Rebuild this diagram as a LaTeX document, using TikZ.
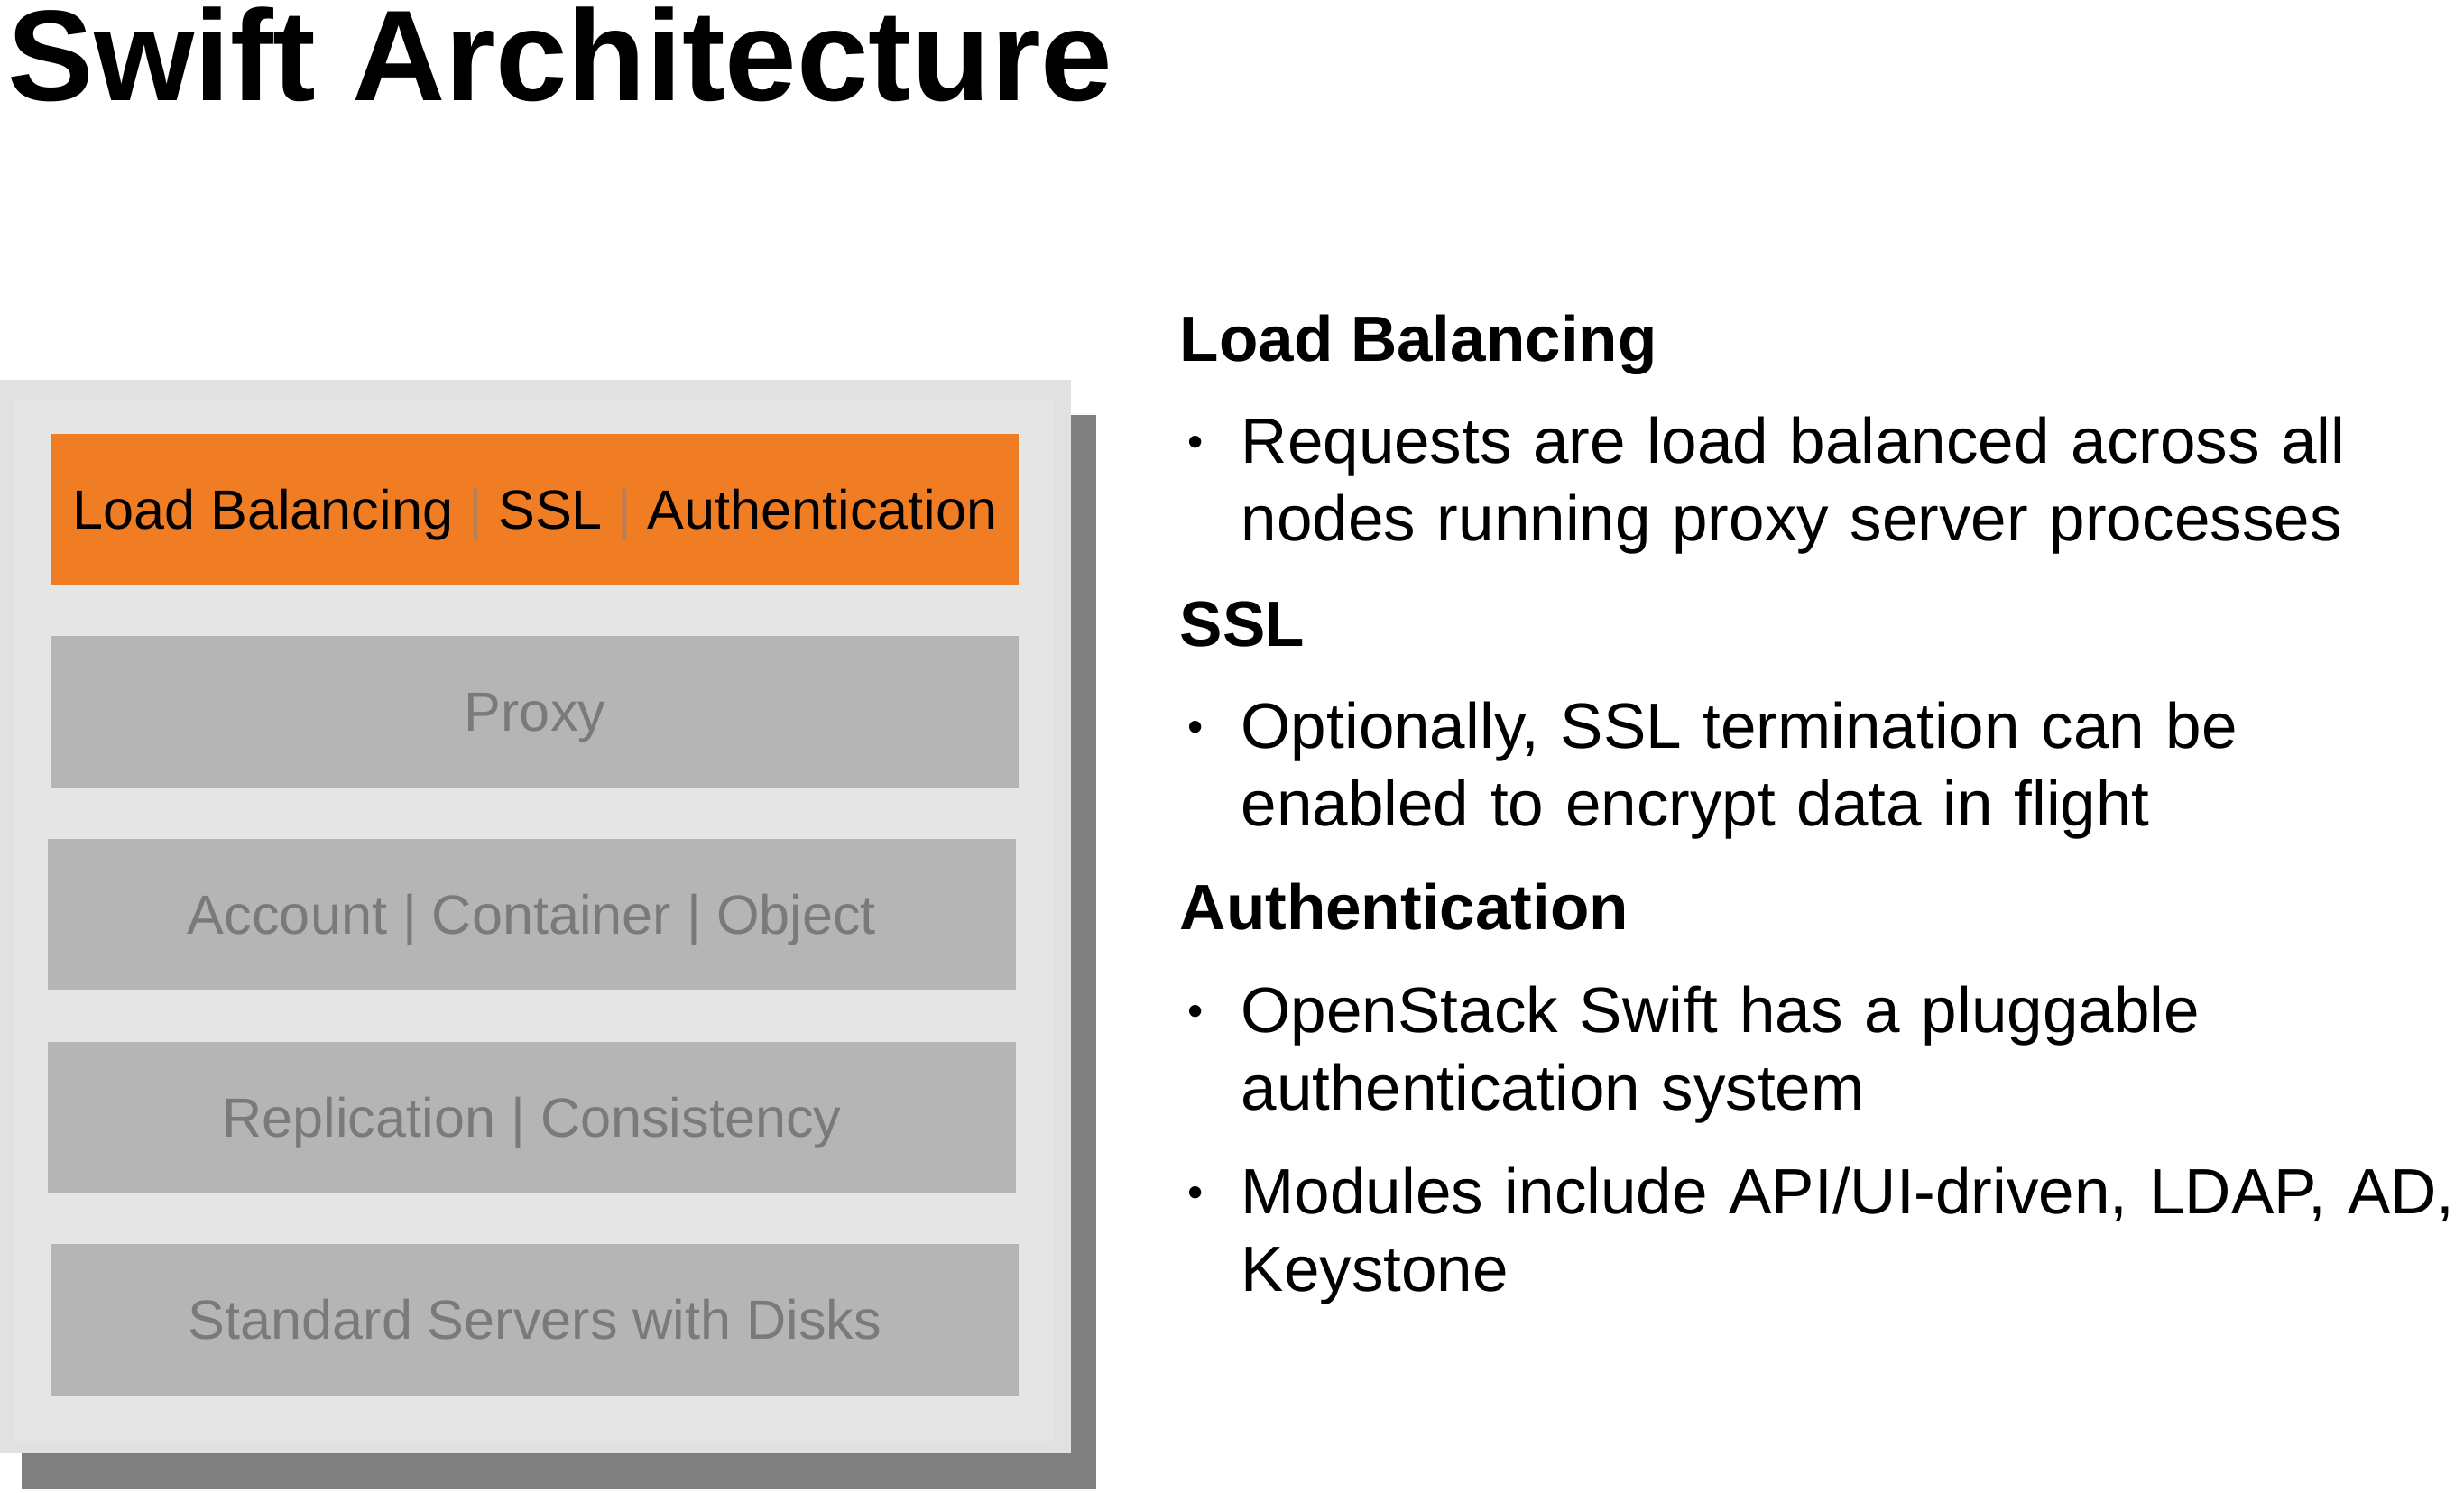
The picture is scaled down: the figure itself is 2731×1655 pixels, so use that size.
\documentclass[tikz,border=0pt]{standalone}
\usepackage{fontspec}
\setmainfont{Liberation Sans}
\definecolor{swiftorange}{HTML}{F07C24}
\definecolor{layergray}{HTML}{B5B5B5}
\definecolor{layertext}{HTML}{7A7A7A}
\definecolor{panelgray}{HTML}{E1E1E1}
\definecolor{panelinner}{HTML}{E5E5E5}
\definecolor{shadowgray}{HTML}{808080}
\definecolor{sepline}{HTML}{B8805A}
\begin{document}
\begin{tikzpicture}[x=0.01cm, y=-0.01cm,
	layer/.style={fill=layergray, text=layertext, minimum width=10.72cm, minimum height=1.67cm, inner sep=0pt, text height=12.4pt, text depth=0pt, font=\fontsize{17.4}{20}\selectfont},
	toplayer/.style={layer, fill=swiftorange, text=black},
	head/.style={anchor=base west, inner sep=0pt, font=\fontsize{20.2}{24.7}\selectfont\bfseries},
	item/.style={anchor=base west, inner sep=0pt, align=left, text width=14cm, font=\fontsize{20.2}{24.7}\selectfont},
	dot/.style={inner sep=0pt, font=\fontsize{14}{14}\selectfont}]
	\useasboundingbox (0,0) rectangle (2731,1655);
	
	\node[anchor=base west, inner sep=0pt, font=\fontsize{40.7}{44}\selectfont\bfseries] (title) at (8,112) {Swift Architecture};
	
	\fill[shadowgray] (24,460) rectangle (1215,1651);
	\fill[panelgray] (0,421) rectangle (1187,1611);
	\fill[panelinner] (16,443) rectangle (1168,1597);
	
	\node[toplayer] (lb) at (593,564.5) {Load Balancing \textcolor{sepline}{|} SSL \textcolor{sepline}{|} Authentication};
	\node[layer] (proxy) at (593,789) {Proxy};
	\node[layer] (aco) at (589.5,1013.5) {Account | Container | Object};
	\node[layer] (repl) at (589.5,1238.5) {Replication | Consistency};
	\node[layer] (disks) at (593,1463) {Standard Servers with Disks};
	
	\node[head] (lbhead) at (1307,400) {Load Balancing};
	\node[dot] (lbdot) at (1325,495) {•};
	\node[item] (lbitem) at (1375,513) {Requests are load balanced across all\\nodes running proxy server processes};
	
	\node[head] (sslhead) at (1307,716) {SSL};
	\node[dot] (ssldot) at (1325,811) {•};
	\node[item] (sslitem) at (1375,829) {Optionally, SSL termination can be\\enabled to encrypt data in flight};
	
	\node[head] (authhead) at (1307,1030) {Authentication};
	\node[dot] (authdot) at (1325,1126) {•};
	\node[item] (authitem) at (1375,1144) {OpenStack Swift has a pluggable\\authentication system};
	\node[dot] (moddot) at (1325,1327) {•};
	\node[item] (moditem) at (1375,1345) {Modules include API/UI-driven, LDAP, AD,\\Keystone};
	
\end{tikzpicture}
\end{document}
